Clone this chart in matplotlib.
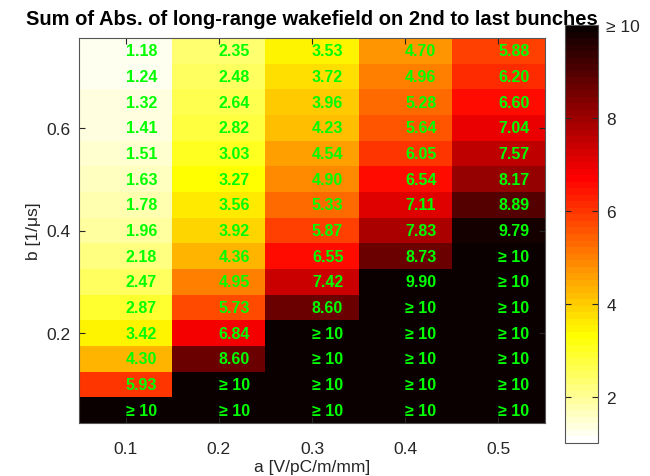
import numpy as np
import matplotlib
matplotlib.use("Agg")
import matplotlib.pyplot as plt
from matplotlib.colors import ListedColormap

plt.rcParams['font.family'] = ['Liberation Sans', 'DejaVu Sans']

# a along x, b along y (bottom to top)
a_vals = [0.1, 0.2, 0.3, 0.4, 0.5]
b_vals = [0.05, 0.10, 0.15, 0.20, 0.25, 0.30, 0.35, 0.40,
          0.45, 0.50, 0.55, 0.60, 0.65, 0.70, 0.75]

INF = np.inf  # shown as "≥ 10"
# each column listed from b=0.05 (bottom) up to b=0.75 (top)
col_a01 = [INF, 5.93, 4.30, 3.42, 2.87, 2.47, 2.18, 1.96, 1.78, 1.63, 1.51, 1.41, 1.32, 1.24, 1.18]
col_a02 = [INF, INF, 8.60, 6.84, 5.73, 4.95, 4.36, 3.92, 3.56, 3.27, 3.03, 2.82, 2.64, 2.48, 2.35]
col_a03 = [INF, INF, INF, INF, 8.60, 7.42, 6.55, 5.87, 5.33, 4.90, 4.54, 4.23, 3.96, 3.72, 3.53]
col_a04 = [INF, INF, INF, INF, INF, 9.90, 8.73, 7.83, 7.11, 6.54, 6.05, 5.64, 5.28, 4.96, 4.70]
col_a05 = [INF, INF, INF, INF, INF, INF, INF, 9.79, 8.89, 8.17, 7.57, 7.04, 6.60, 6.20, 5.88]

cap = 10
cbar_ticks = [2, 4, 6, 8, 10]
cbar_labels = ['2', '4', '6', '8', '≥ 10']

Z = np.array([col_a01, col_a02, col_a03, col_a04, col_a05]).T
Zc = np.minimum(Z, cap)

a_edges = np.concatenate([[a_vals[0] - 0.05], np.array(a_vals) + 0.05])
b_edges = np.concatenate([[b_vals[0] - 0.025], np.array(b_vals) + 0.025])

# octave style hot(64), flipped
n = 64
nr, ng = 24, 24
nb = n - nr - ng
r = np.concatenate([np.arange(1, nr + 1) / nr, np.ones(n - nr)])
g = np.concatenate([np.zeros(nr), np.arange(1, ng + 1) / ng, np.ones(nb)])
b = np.concatenate([np.zeros(nr + ng), np.arange(1, nb + 1) / nb])
cmap = ListedColormap(np.column_stack([r, g, b])[::-1])

fig = plt.figure(figsize=(6.5, 4.77), dpi=100)
ax = fig.add_axes([79/650, 1 - 424/477, 466/650, 385/477])
mesh = ax.pcolormesh(a_edges, b_edges, Zc, cmap=cmap, vmin=1, vmax=10)

for i, bv in enumerate(b_vals):
    for j, av in enumerate(a_vals):
        v = Z[i, j]
        txt = '≥ 10' if v >= cap else f'{v:.2f}'
        ax.text(av, bv, txt, ha='left', va='center', color='#00ff00',
                fontsize=11.5, fontweight='bold')

ax.set_xlim(a_edges[0], a_edges[-1])
ax.set_ylim(b_edges[0], b_edges[-1])
ax.set_xticks(a_vals)
ax.set_yticks([0.2, 0.4, 0.6])
ax.tick_params(direction='in', top=True, right=True, labelsize=12.5,
               colors='#262626', length=4)
ax.tick_params(axis='x', pad=13)
ax.tick_params(axis='y', pad=6)
for s in ax.spines.values():
    s.set_color('#555555')
    s.set_linewidth(0.8)
ax.set_xlabel('a [V/pC/m/mm]', fontsize=12.5, color='#262626', labelpad=2)
ax.set_ylabel('b [1/μs]', fontsize=12.5, color='#262626', labelpad=4)
ax.set_title('Sum of Abs. of long-range wakefield on 2nd to last bunches',
             fontsize=14.5, fontweight='bold', pad=10)

cax = fig.add_axes([565/650, 1 - 444/477, 33/650, 418/477])
cb = fig.colorbar(mesh, cax=cax, ticks=cbar_ticks)
cb.ax.set_yticklabels(cbar_labels)
cb.ax.tick_params(direction='in', left=True, right=True, labelsize=12.5,
                  colors='#262626', length=4, pad=6)
cb.outline.set_edgecolor('#555555')
cb.outline.set_linewidth(0.8)

fig.savefig('out.png', dpi=100)
